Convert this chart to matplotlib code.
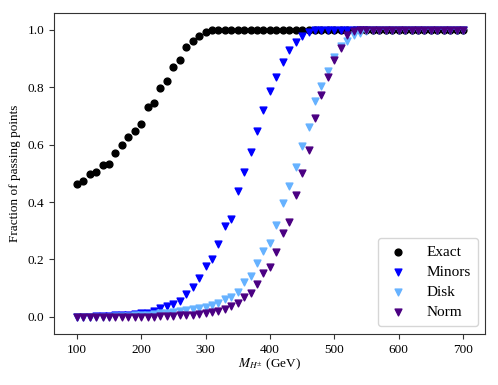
import matplotlib
matplotlib.use('Agg')
import matplotlib.pyplot as plt
import numpy as np

plt.rcParams['font.family'] = ['Liberation Serif', 'DejaVu Serif']
plt.rcParams['mathtext.fontset'] = 'stix'

# masses (GeV), one point every 10 GeV
mass = np.arange(100, 701, 10)

exact_head = [0.462, 0.473, 0.497, 0.506, 0.529, 0.531, 0.572, 0.598, 0.626, 0.648,
              0.672, 0.730, 0.744, 0.796, 0.822, 0.872, 0.895, 0.940, 0.960, 0.979,
              0.992, 0.998]
minors_head = [0.0, 0.0, 0.0, 0.002, 0.003, 0.004, 0.005, 0.007, 0.008, 0.010,
               0.012, 0.015, 0.020, 0.030, 0.037, 0.045, 0.055, 0.078, 0.105, 0.135,
               0.176, 0.201, 0.254, 0.317, 0.342, 0.440, 0.504, 0.573, 0.648, 0.720,
               0.788, 0.837, 0.889, 0.930, 0.959, 0.979, 0.993]
disk_head = [0.0, 0.0, 0.0, 0.0, 0.0, 0.001, 0.002, 0.003, 0.004, 0.005,
             0.006, 0.008, 0.010, 0.012, 0.015, 0.018, 0.020, 0.025, 0.028, 0.030,
             0.035, 0.040, 0.050, 0.063, 0.070, 0.087, 0.122, 0.143, 0.186, 0.230,
             0.258, 0.320, 0.398, 0.455, 0.523, 0.597, 0.663, 0.752, 0.805, 0.857,
             0.905, 0.945, 0.963, 0.982, 0.990, 0.996]
norm_head = [0.0, 0.0, 0.0, 0.0, 0.0, 0.0, 0.0, 0.0, 0.0, 0.0,
             0.0, 0.0, 0.0, 0.002, 0.003, 0.004, 0.005, 0.006, 0.008, 0.010,
             0.013, 0.016, 0.020, 0.027, 0.038, 0.047, 0.070, 0.082, 0.113, 0.154,
             0.174, 0.225, 0.291, 0.331, 0.424, 0.502, 0.581, 0.692, 0.773, 0.835,
             0.895, 0.938, 0.983, 0.995]

def pad_ones(head):
    return np.array(head + [1.0] * (len(mass) - len(head)))

exact = pad_ones(exact_head)
minors = pad_ones(minors_head)
disk = pad_ones(disk_head)
norm = pad_ones(norm_head)

fig = plt.figure(figsize=(4.98, 3.85), dpi=100)
ax = fig.add_axes([0.109, 0.133, 0.8655, 0.834])

msize = 24
ax.scatter(mass, exact, s=msize, marker='o', color='black', label='Exact')
ax.scatter(mass, minors, s=msize, marker='v', color='#0000ff', label='Minors')
ax.scatter(mass, disk, s=msize, marker='v', color='#66b2ff', label='Disk')
ax.scatter(mass, norm, s=msize, marker='v', color='#4b0082', label='Norm')

ax.set_xlim(65, 734.6)
ax.set_ylim(-0.059, 1.060)
ax.set_xticks([100, 200, 300, 400, 500, 600, 700])
ax.set_yticks([0.0, 0.2, 0.4, 0.6, 0.8, 1.0])
for side in ax.spines.values():
    side.set_color('#333333')
ax.tick_params(labelsize=9.5, length=3.5, color='#333333')
ax.set_xlabel(r'$M_{H^{\pm}}$ (GeV)', fontsize=9.5, labelpad=1)
ax.set_ylabel('Fraction of passing points', fontsize=9.5, labelpad=5)

ax.legend(loc='lower right', fontsize=11, handletextpad=1.1, borderpad=0.45,
          labelspacing=0.42, handlelength=1.6)

fig.savefig('out.png', dpi=100)
